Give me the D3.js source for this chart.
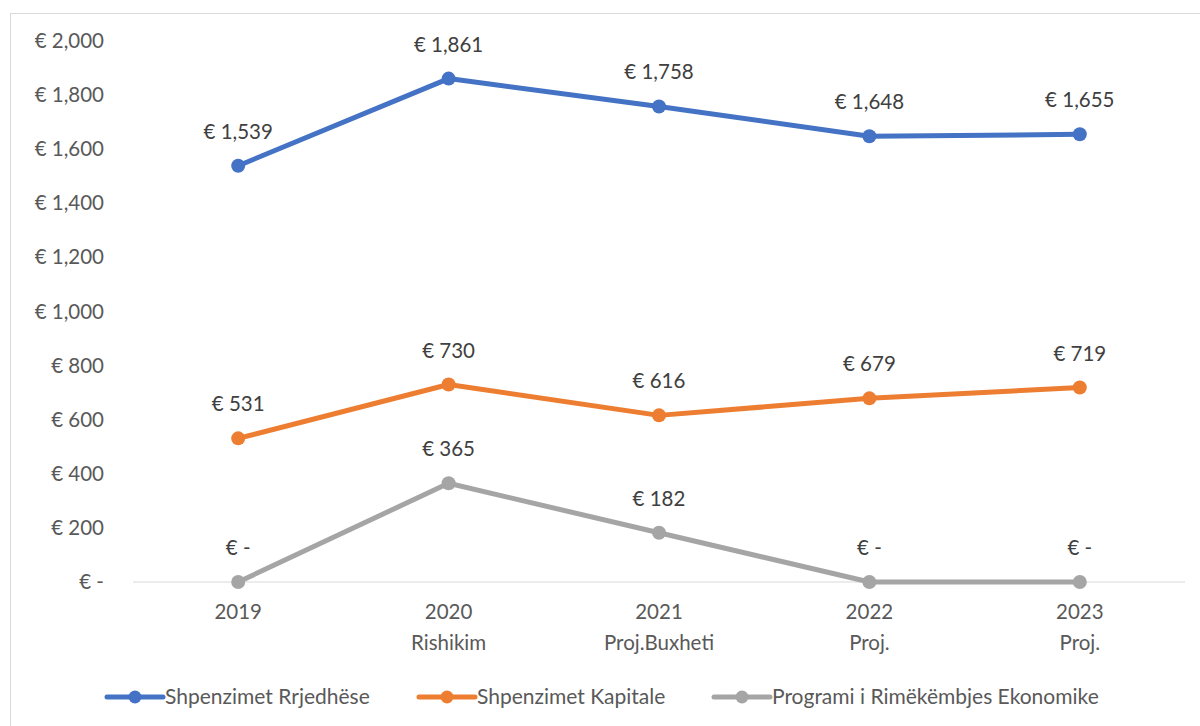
<!DOCTYPE html>
<html><head><meta charset="utf-8">
<script src="https://cdn.jsdelivr.net/npm/d3@7"></script>
<style>
html,body{margin:0;padding:0;background:#fff;}
svg{display:block;font-family:Lato, "Open Sans", sans-serif;}
</style></head>
<body>
<svg id="chart" width="1200" height="726"></svg>
<script>
const categories = [["2019"],["2020","Rishikim"],["2021","Proj.Buxheti"],["2022","Proj."],["2023","Proj."]];
const seriesNames = ["Shpenzimet Rrjedhëse","Shpenzimet Kapitale","Programi i Rimëkëmbjes Ekonomike"];
const rrjedhese = [1539, 1861, 1758, 1648, 1655];
const kapitale = [531, 730, 616, 679, 719];
const programi = [0, 365, 182, 0, 0];
const yTicks = [0, 200, 400, 600, 800, 1000, 1200, 1400, 1600, 1800, 2000];
const colors = ["#4472C4", "#ED7D31", "#A5A5A5"];

const svg = d3.select("#chart");
const textColor = "#595959";
const fs = 20.5;
const fmt = v => v === 0 ? "€ -" : "€ " + d3.format(",")(v);

// outer frame
svg.append("rect").attr("x", 10.5).attr("y", 13.5).attr("width", 1200).attr("height", 730)
  .attr("fill", "none").attr("stroke", "#d9d9d9").attr("stroke-width", 1);

const x = d3.scaleBand().domain(d3.range(categories.length)).range([133, 1185]);
const y = d3.scaleLinear().domain([0, 2000]).range([582, 41]);
const cx = i => x(i) + x.bandwidth() / 2;

// y axis labels
const yAxis = d3.axisLeft(y).tickValues(yTicks).tickFormat(fmt).tickSize(0).tickPadding(0);
const gy = svg.append("g").attr("transform", "translate(104,0)").call(yAxis);
gy.select(".domain").remove();
gy.selectAll("text").attr("font-size", fs).attr("fill", textColor).attr("font-family", "Lato, sans-serif");

// baseline
svg.append("line").attr("x1", 133).attr("x2", 1185).attr("y1", y(0)).attr("y2", y(0))
  .attr("stroke", "#d9d9d9").attr("stroke-width", 1);

// x axis labels
const gx = svg.append("g");
categories.forEach((c, i) => {
  const t = gx.append("text").attr("x", cx(i)).attr("y", 619).attr("text-anchor", "middle")
    .attr("font-size", fs).attr("fill", textColor);
  c.forEach((line, j) => t.append("tspan").attr("x", cx(i)).attr("dy", j === 0 ? 0 : 31).text(line));
});

const data = [rrjedhese, kapitale, programi];
const line = d3.line().x((d, i) => cx(i)).y(d => y(d));
data.forEach((vals, s) => {
  const g = svg.append("g");
  g.append("path").datum(vals).attr("d", line).attr("fill", "none")
    .attr("stroke", colors[s]).attr("stroke-width", 5).attr("stroke-linecap", "round").attr("stroke-linejoin", "round");
  g.selectAll("circle").data(vals).join("circle")
    .attr("cx", (d, i) => cx(i)).attr("cy", d => y(d)).attr("r", 7).attr("fill", colors[s]);
  g.selectAll("text").data(vals).join("text")
    .attr("x", (d, i) => cx(i)).attr("y", d => y(d) - 27).attr("text-anchor", "middle")
    .attr("font-size", fs).attr("fill", "#404040").text(fmt);
});

// legend
const legendX = [107, 419, 714];
const ly = 697;
seriesNames.forEach((n, s) => {
  const g = svg.append("g");
  g.append("line").attr("x1", legendX[s]).attr("x2", legendX[s] + 56).attr("y1", ly).attr("y2", ly)
    .attr("stroke", colors[s]).attr("stroke-width", 5).attr("stroke-linecap", "round");
  g.append("circle").attr("cx", legendX[s] + 28).attr("cy", ly).attr("r", 6.5).attr("fill", colors[s]);
  g.append("text").attr("x", legendX[s] + 58).attr("y", ly + 7).attr("font-size", 21)
    .attr("fill", textColor).text(n);
});
</script>
</body></html>
